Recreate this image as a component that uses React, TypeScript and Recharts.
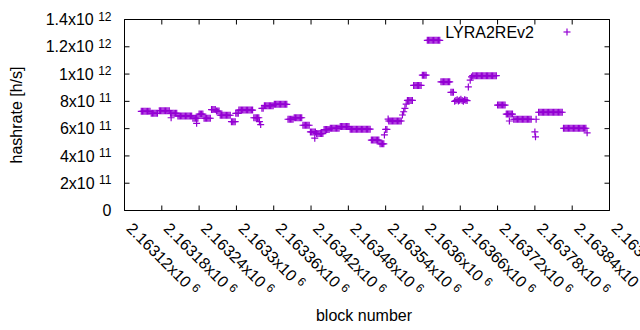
import React from 'react';
import { ScatterChart, Scatter, XAxis, YAxis, Customized } from 'recharts';

const SERIES_NAME = 'LYRA2REv2';
const X_TITLE = 'block number';
const Y_TITLE = 'hashrate [h/s]';
const PURPLE = '#9400D3';
const FONT = '"Liberation Sans", Arial, sans-serif';

const blockDomain = [2163120, 2163900];
const blockTicks = [2163120, 2163180, 2163240, 2163300, 2163360, 2163420, 2163480, 2163540, 2163600, 2163660, 2163720, 2163780, 2163840, 2163900];
const blockTickMantissas = ['2.16312', '2.16318', '2.16324', '2.1633', '2.16336', '2.16342', '2.16348', '2.16354', '2.1636', '2.16366', '2.16372', '2.16378', '2.16384', '2.1639'];
const blockTickExponent = '6';

const hashDomain = [0, 1.4e12];
const hashTicks = [0, 2e11, 4e11, 6e11, 8e11, 1e12, 1.2e12, 1.4e12];
const hashTickMantissas = ['0', '2x10', '4x10', '6x10', '8x10', '1x10', '1.2x10', '1.4x10'];
const hashTickExponents = ['', '11', '11', '11', '11', '12', '12', '12'];

// [block number, hashrate h/s]
const lyra2rev2Samples: [number, number][] = [
  [2163147, 727e9], [2163149, 727e9], [2163151, 727e9], [2163153, 727e9], [2163155, 727e9], [2163157, 727e9], [2163159, 727e9], [2163161, 727e9],
  [2163163, 713e9], [2163165, 713e9], [2163167, 713e9], [2163169, 713e9], [2163171, 713e9], [2163173, 713e9],
  [2163176, 731e9], [2163178, 731e9], [2163180, 731e9], [2163182, 731e9], [2163184, 731e9], [2163186, 731e9], [2163188, 731e9], [2163190, 731e9], [2163192, 731e9],
  [2163194, 713e9], [2163195, 680e9], [2163196, 713e9], [2163198, 713e9], [2163200, 713e9], [2163202, 713e9], [2163204, 713e9],
  [2163206, 693e9], [2163208, 693e9], [2163210, 693e9], [2163212, 693e9], [2163214, 693e9], [2163216, 693e9], [2163218, 693e9], [2163220, 693e9], [2163222, 693e9], [2163224, 693e9], [2163226, 693e9], [2163228, 693e9],
  [2163230, 676e9], [2163232, 676e9], [2163234, 676e9], [2163236, 676e9], [2163236, 639e9], [2163238, 676e9],
  [2163240, 707e9], [2163242, 707e9], [2163244, 707e9], [2163246, 707e9],
  [2163248, 676e9], [2163250, 676e9], [2163252, 676e9], [2163254, 676e9], [2163256, 676e9], [2163258, 676e9],
  [2163260, 740e9], [2163262, 740e9], [2163264, 740e9], [2163266, 740e9], [2163268, 729e9], [2163270, 729e9], [2163272, 729e9],
  [2163274, 698e9], [2163276, 698e9], [2163278, 698e9], [2163280, 698e9], [2163282, 698e9], [2163284, 698e9], [2163286, 698e9], [2163288, 698e9], [2163290, 698e9],
  [2163292, 651e9], [2163294, 651e9], [2163296, 651e9], [2163298, 651e9], [2163299, 712e9], [2163301, 712e9], [2163303, 712e9],
  [2163304, 736e9], [2163306, 736e9], [2163308, 736e9], [2163310, 736e9], [2163312, 736e9], [2163314, 736e9], [2163316, 736e9], [2163318, 736e9], [2163320, 736e9], [2163322, 736e9], [2163324, 736e9], [2163326, 736e9],
  [2163328, 680e9], [2163330, 680e9], [2163332, 680e9], [2163334, 680e9], [2163336, 680e9], [2163337, 651e9], [2163339, 630e9], [2163341, 749e9], [2163343, 749e9],
  [2163345, 768e9], [2163347, 768e9], [2163349, 768e9], [2163351, 768e9], [2163353, 768e9], [2163355, 768e9], [2163357, 768e9], [2163359, 768e9],
  [2163361, 778e9], [2163363, 778e9], [2163365, 778e9], [2163367, 778e9], [2163369, 778e9], [2163371, 778e9], [2163373, 778e9], [2163375, 778e9], [2163377, 778e9], [2163379, 778e9], [2163381, 778e9],
  [2163383, 669e9], [2163385, 669e9], [2163387, 669e9], [2163389, 669e9], [2163391, 669e9],
  [2163393, 680e9], [2163395, 680e9], [2163397, 680e9], [2163399, 680e9], [2163401, 680e9], [2163403, 680e9], [2163405, 680e9],
  [2163407, 625e9], [2163409, 625e9], [2163411, 625e9], [2163413, 625e9], [2163415, 625e9], [2163417, 625e9],
  [2163419, 576e9], [2163421, 576e9], [2163423, 576e9], [2163425, 576e9], [2163426, 530e9], [2163427, 576e9],
  [2163429, 564e9], [2163431, 564e9], [2163433, 564e9], [2163435, 564e9], [2163437, 564e9], [2163439, 564e9],
  [2163441, 593e9], [2163443, 593e9], [2163445, 593e9], [2163447, 593e9], [2163449, 593e9],
  [2163451, 603e9], [2163453, 603e9], [2163455, 603e9], [2163457, 603e9], [2163459, 603e9], [2163461, 603e9], [2163463, 603e9], [2163465, 603e9],
  [2163467, 615e9], [2163469, 615e9], [2163471, 615e9], [2163473, 615e9], [2163475, 615e9], [2163477, 615e9], [2163479, 615e9], [2163481, 615e9],
  [2163483, 596e9], [2163485, 596e9], [2163487, 596e9], [2163489, 596e9], [2163491, 596e9], [2163493, 596e9], [2163495, 596e9], [2163497, 596e9], [2163499, 596e9], [2163501, 596e9], [2163503, 596e9], [2163505, 596e9], [2163507, 596e9], [2163509, 596e9], [2163511, 596e9], [2163513, 596e9], [2163515, 596e9],
  [2163517, 516e9], [2163519, 516e9], [2163521, 516e9], [2163523, 516e9], [2163525, 516e9], [2163527, 516e9], [2163529, 516e9],
  [2163531, 489e9], [2163533, 489e9], [2163535, 489e9], [2163537, 489e9],
  [2163538, 554e9], [2163540, 594e9], [2163542, 594e9], [2163544, 670e9],
  [2163545, 656e9], [2163547, 656e9], [2163549, 656e9], [2163551, 656e9], [2163553, 656e9], [2163555, 656e9], [2163557, 656e9], [2163559, 656e9], [2163561, 656e9], [2163563, 656e9], [2163565, 656e9],
  [2163567, 700e9], [2163569, 724e9], [2163571, 749e9], [2163573, 780e9],
  [2163575, 807e9], [2163577, 807e9], [2163579, 807e9], [2163581, 807e9], [2163583, 807e9],
  [2163585, 917e9], [2163587, 917e9], [2163589, 917e9], [2163591, 917e9], [2163593, 917e9], [2163595, 917e9], [2163597, 917e9],
  [2163599, 992e9], [2163601, 992e9], [2163603, 992e9], [2163605, 992e9],
  [2163607, 1247e9], [2163609, 1247e9], [2163611, 1247e9], [2163613, 1247e9], [2163615, 1247e9], [2163617, 1247e9], [2163619, 1247e9], [2163621, 1247e9], [2163623, 1247e9], [2163625, 1247e9], [2163627, 1247e9],
  [2163629, 943e9], [2163631, 943e9], [2163633, 943e9], [2163635, 943e9], [2163637, 943e9], [2163639, 943e9], [2163641, 943e9], [2163643, 943e9],
  [2163645, 866e9], [2163647, 866e9], [2163649, 866e9],
  [2163651, 800e9], [2163653, 806e9], [2163655, 812e9], [2163657, 803e9], [2163659, 809e9], [2163661, 815e9], [2163663, 806e9], [2163665, 800e9], [2163667, 812e9], [2163669, 809e9], [2163671, 806e9],
  [2163673, 906e9], [2163676, 955e9], [2163678, 979e9],
  [2163680, 988e9], [2163682, 988e9], [2163684, 988e9], [2163686, 988e9], [2163688, 988e9], [2163690, 988e9], [2163692, 988e9], [2163694, 988e9], [2163696, 988e9], [2163698, 988e9], [2163700, 988e9], [2163702, 988e9], [2163704, 988e9], [2163706, 988e9], [2163708, 988e9], [2163710, 988e9], [2163712, 988e9], [2163714, 988e9], [2163716, 988e9], [2163718, 988e9],
  [2163720, 773e9], [2163722, 773e9], [2163724, 773e9], [2163726, 773e9], [2163728, 773e9], [2163730, 773e9], [2163732, 773e9],
  [2163734, 707e9], [2163736, 707e9], [2163738, 707e9], [2163739, 656e9], [2163740, 707e9], [2163742, 707e9], [2163744, 707e9],
  [2163746, 669e9], [2163748, 669e9], [2163750, 669e9], [2163752, 669e9], [2163754, 669e9], [2163756, 669e9], [2163758, 669e9], [2163760, 669e9], [2163762, 669e9], [2163764, 669e9], [2163766, 669e9], [2163768, 669e9], [2163770, 669e9], [2163772, 669e9], [2163774, 669e9],
  [2163780, 576e9], [2163781, 540e9], [2163782, 669e9],
  [2163786, 720e9], [2163788, 720e9], [2163790, 720e9], [2163792, 720e9], [2163794, 720e9], [2163796, 720e9], [2163798, 720e9], [2163800, 720e9], [2163802, 720e9], [2163804, 720e9], [2163806, 720e9], [2163808, 720e9], [2163810, 720e9], [2163812, 720e9], [2163814, 720e9], [2163816, 720e9], [2163818, 720e9], [2163820, 720e9], [2163822, 720e9], [2163824, 720e9],
  [2163826, 603e9], [2163828, 603e9], [2163830, 603e9], [2163832, 603e9], [2163834, 603e9], [2163836, 603e9], [2163838, 603e9], [2163840, 603e9], [2163842, 603e9], [2163844, 603e9], [2163846, 603e9], [2163848, 603e9], [2163850, 603e9], [2163852, 603e9], [2163854, 603e9], [2163856, 603e9], [2163858, 603e9], [2163860, 603e9], [2163862, 603e9],
  [2163864, 569e9],
];

const chartData = lyra2rev2Samples.map(([block, hashrate]) => ({ block, hashrate }));

const Plus = ({ cx, cy }: { cx: number; cy: number }) => (
  <g>
    <line x1={cx - 3.5} x2={cx + 3.5} y1={cy} y2={cy} stroke={PURPLE} strokeWidth={1.2} />
    <line x1={cx} x2={cx} y1={cy - 3.5} y2={cy + 3.5} stroke={PURPLE} strokeWidth={1.2} />
  </g>
);

const PlusMarker = (props: any) => {
  const { cx, cy } = props;
  if (cx == null || cy == null || isNaN(cx) || isNaN(cy)) return <g />;
  return <Plus cx={cx} cy={cy} />;
};

const XTick = (props: any) => {
  const { x, y, payload } = props;
  const i = blockTicks.indexOf(payload.value);
  if (i < 0) return <g />;
  const ax = x + 1;
  const ay = y + 19;
  return (
    <g transform={`translate(${ax},${ay}) rotate(45)`}>
      <text x={0} y={0} textAnchor="start" fontSize={16} fill="#000" fontFamily={FONT}>
        {blockTickMantissas[i] + 'x10'}
        <tspan dx={4.4} dy={-4.6} fontSize={12}>{blockTickExponent}</tspan>
      </text>
    </g>
  );
};

const YTick = (props: any) => {
  const { x, y, payload } = props;
  const i = hashTicks.indexOf(payload.value);
  if (i < 0) return <g />;
  const exp = hashTickExponents[i];
  return (
    <text x={x - 13} y={y + 5.7} textAnchor="end" fontSize={16} fill="#000" fontFamily={FONT}>
      {hashTickMantissas[i]}
      {exp ? <tspan dx={4.4} dy={-4.6} fontSize={12}>{exp}</tspan> : null}
    </text>
  );
};

const Empty = () => <g />;

const Extras = () => (
  <g fontFamily={FONT} fill="#000">
    <text x={534} y={37.5} textAnchor="end" fontSize={16}>{SERIES_NAME}</text>
    <Plus cx={567} cy={32} />
    <text x={364} y={321} textAnchor="middle" fontSize={16}>{X_TITLE}</text>
    <text transform="translate(21.5,115) rotate(-90)" x={0} y={0} textAnchor="middle" fontSize={16}>{Y_TITLE}</text>
  </g>
);

export default function App() {
  return (
    <div style={{ position: 'absolute', left: 0, top: 0, width: 640, height: 330, background: '#fff' }}>
      <ScatterChart width={640} height={330} margin={{ top: 18.5, right: 29.5, bottom: 118.5, left: 123.5 }}>
        <XAxis xAxisId="b" type="number" dataKey="block" domain={blockDomain} allowDataOverflow ticks={blockTicks} interval={0}
          height={1} orientation="bottom" tickSize={-5} tickMargin={5} stroke="#000" tick={<XTick />} />
        <XAxis xAxisId="t" type="number" dataKey="block" domain={blockDomain} allowDataOverflow ticks={blockTicks} interval={0}
          height={1} orientation="top" tickSize={-5} tickMargin={5} stroke="#000" tick={<Empty />} />
        <YAxis yAxisId="l" type="number" dataKey="hashrate" domain={hashDomain} allowDataOverflow ticks={hashTicks} interval={0}
          width={1} orientation="left" tickSize={-5} tickMargin={5} stroke="#000" tick={<YTick />} />
        <YAxis yAxisId="r" type="number" dataKey="hashrate" domain={hashDomain} allowDataOverflow ticks={hashTicks} interval={0}
          width={1} orientation="right" tickSize={-5} tickMargin={5} stroke="#000" tick={<Empty />} />
        <Scatter name={SERIES_NAME} xAxisId="b" yAxisId="l" data={chartData} fill={PURPLE} shape={PlusMarker} isAnimationActive={false} />
        <Customized component={Extras} />
      </ScatterChart>
    </div>
  );
}
